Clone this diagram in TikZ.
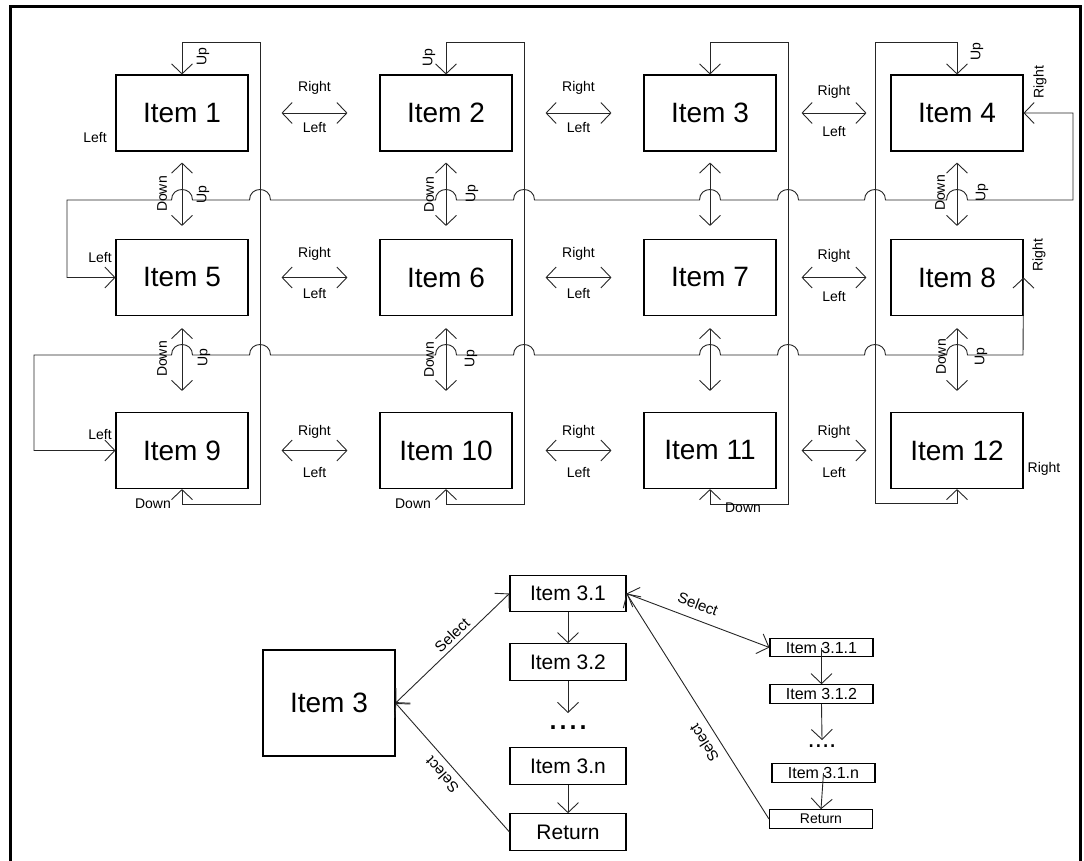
\documentclass[tikz,border=0pt]{standalone}
\usepackage{fontspec}
\setmainfont{Liberation Sans}
\usetikzlibrary{arrows.meta}
\begin{document}
\begin{tikzpicture}[x=1pt,y=-1pt,
  >={Straight Barb[length=10pt,width=21pt]},
  box/.style={draw=black, line width=1.1pt, inner sep=0pt, minimum width=132pt, minimum height=76pt, font=\fontsize{28}{30}\selectfont},
  sbox/.style={draw=black, line width=1.1pt, inner sep=0pt, minimum width=116pt, minimum height=36.5pt, font=\fontsize{21}{24}\selectfont},
  tbox/.style={draw=black, line width=1.1pt, inner sep=0pt, minimum width=103pt, minimum height=18.5pt, font=\fontsize{16}{18}\selectfont},
  lbl/.style={inner sep=0pt, font=\fontsize{14}{16}\selectfont},
  vlbl/.style={lbl, rotate=90},
  sel/.style={inner sep=0pt, font=\fontsize{15}{17}\selectfont},
  con/.style={line width=0.9pt, draw=black!85},
  hop/.style 2 args={insert path={-- (#1+10.5,#2) .. controls (#1+10.5,#2-14) and (#1-10.5,#2-14) .. (#1-10.5,#2)}}
]
\useasboundingbox (0,0) rectangle (1084,861);
\clip (0,0) rectangle (1084,861);
% frame
\draw[line width=3pt] (10.5,900) -- (10.5,7) -- (1080.5,7) -- (1080.5,900);

% grid of items
\node[box] (I1) at (182,113) {Item 1};
\node[box] (I2) at (446,113) {Item 2};
\node[box] (I3) at (710,113) {Item 3};
\node[box] (I4) at (957,113) {Item 4};
\node[box] (I5) at (182,277.5) {Item 5};
\node[box] (I6) at (446,277.5) {Item 6};
\node[box] (I7) at (710,277.5) {Item 7};
\node[box] (I8) at (957,277.5) {Item 8};
\node[box] (I9) at (182,450.5) {Item 9};
\node[box] (I10) at (446,450.5) {Item 10};
\node[box] (I11) at (710,450.5) {Item 11};
\node[box] (I12) at (957,450.5) {Item 12};

% horizontal double arrows
\foreach \a/\b/\s/\t in {1/2/33/32, 2/3/33/32, 3/4/25/24, 5/6/33/32, 6/7/33/32, 7/8/25/24, 9/10/33/32, 10/11/33/32, 11/12/25/24}{
  \draw[con,<->,shorten <=\s pt,shorten >=\t pt] (I\a.east) -- (I\b.west);
}
% vertical double arrows
\foreach \a/\b in {1/5, 2/6, 3/7, 4/8}{
  \draw[con,<->,shorten <=11pt,shorten >=13pt] (I\a.south) -- (I\b.north);
}
\foreach \a/\b in {5/9, 6/10, 7/11, 8/12}{
  \draw[con,<->,shorten <=12pt,shorten >=21pt] (I\a.south) -- (I\b.north);
}

% column wrap lines
\coordinate (t1) at (260,42);  \coordinate (b1) at (260,504);
\coordinate (t2) at (524,42);  \coordinate (b2) at (524,504);
\coordinate (t3) at (788,42);  \coordinate (b3) at (788,504);
\coordinate (t4) at (875,42);  \coordinate (b4) at (875,503);
\draw[con,<->] (I1.north) |- (t1) -- (b1) -| (I9.south);
\draw[con,<->] (I2.north) |- (t2) -- (b2) -| (I10.south);
\draw[con,<->] (I3.north) |- (t3) -- (b3) -| (I11.south);
\draw[con,<->] (I4.north) |- (t4) -- (b4) -| (I12.south);

% row wrap lines with hops
\coordinate (w1a) at (1073,113); \coordinate (w1b) at (1073,200); \coordinate (w1c) at (67,200);
\draw[con,<->] (I4.east) -- (w1a) -- (w1b)
  [hop={957}{200}] [hop={875}{200}] [hop={788}{200}] [hop={710}{200}]
  [hop={524}{200}] [hop={446}{200}] [hop={260}{200}] [hop={182}{200}]
  -- (w1c) |- (I5.west);
\coordinate (w2b) at (1023,355); \coordinate (w2c) at (34,355);
\draw[con,<->] (I8.east) -- (w2b)
  [hop={957}{355}] [hop={875}{355}] [hop={788}{355}] [hop={710}{355}]
  [hop={524}{355}] [hop={446}{355}] [hop={260}{355}] [hop={182}{355}]
  -- (w2c) |- (I9.west);

% Right / Left labels on horizontal arrows
\node[lbl] (R1) at (314.5,87.5) {Right};  \node[lbl] (L1) at (314.5,128) {Left};
\node[lbl] (R2) at (578.5,87.5) {Right};  \node[lbl] (L2) at (578.5,128) {Left};
\node[lbl] (R3) at (834,91.5) {Right};    \node[lbl] (L3) at (834,132) {Left};
\node[lbl] (R5) at (314.5,253.5) {Right}; \node[lbl] (L5) at (314.5,294) {Left};
\node[lbl] (R6) at (578.5,253.5) {Right}; \node[lbl] (L6) at (578.5,294) {Left};
\node[lbl] (R7) at (834,256) {Right};     \node[lbl] (L7) at (834,297) {Left};
\node[lbl] (R9) at (314.5,432) {Right};   \node[lbl] (L9) at (314.5,473) {Left};
\node[lbl] (R10) at (578.5,432) {Right};  \node[lbl] (L10) at (578.5,473) {Left};
\node[lbl] (R11) at (834,432) {Right};    \node[lbl] (L11) at (834,473) {Left};

% other labels
\node[lbl] (xL1) at (95,138) {Left};
\node[lbl] (xL5) at (100,258) {Left};
\node[lbl] (xL9) at (100,434) {Left};
\node[vlbl] (xU1) at (203,57) {Up};
\node[vlbl] (xU2) at (429,58) {Up};
\node[vlbl] (xU4) at (977,52) {Up};
\node[vlbl] (xR4) at (1040,82) {Right};
\node[vlbl] (xR8) at (1039,255) {Right};
\node[lbl] (xR12) at (1044,469) {Right};
\node[vlbl] (D15) at (162,194) {Down}; \node[vlbl] (U15) at (203,195) {Up};
\node[vlbl] (D26) at (429,195) {Down}; \node[vlbl] (U26) at (472,194) {Up};
\node[vlbl] (D48) at (940,193) {Down}; \node[vlbl] (U48) at (982,193) {Up};
\node[vlbl] (D59) at (162,359) {Down}; \node[vlbl] (U59) at (204,358) {Up};
\node[vlbl] (D610) at (429,360) {Down}; \node[vlbl] (U610) at (471,359) {Up};
\node[vlbl] (D812) at (941,357) {Down}; \node[vlbl] (U812) at (981,357) {Up};
\node[lbl] (xD9) at (153,504) {Down};
\node[lbl] (xD10) at (413,504) {Down};
\node[lbl] (xD11) at (743,508) {Down};

% lower diagram
\node[box, minimum height=106pt] (J3) at (329,703) {Item 3};
\node[sbox] (S1) at (568,593.5) {Item 3.1};
\node[sbox] (S2) at (568,662) {Item 3.2};
\node[anchor=base, inner sep=0pt, font=\fontsize{36}{38}\selectfont] (S3) at (568,729) {....};
\node[sbox] (S4) at (568,766) {Item 3.n};
\node[sbox] (S5) at (568,832) {Return};
\coordinate (S3top) at (568,713);
\draw[con,->] (S1.south) -- (S2.north);
\draw[con,->] (S2.south) -- (S3top);
\draw[con,->] (S4.south) -- (S5.north);

\node[tbox] (T1) at (821.5,647.5) {Item 3.1.1};
\node[tbox] (T2) at (821.5,694) {Item 3.1.2};
\node[anchor=base, inner sep=0pt, font=\fontsize{26}{28}\selectfont] (T3) at (822,747) {....};
\node[tbox] (T4) at (823.5,773) {Item 3.1.n};
\node[tbox, font=\fontsize{14}{16}\selectfont] (T5) at (821,819) {Return};
\coordinate (T3top) at (822,740);
\draw[con,->] (T1.center) -- (T2.north);
\draw[con,->] (T2.south) -- (T3top);
\draw[con,->] (T4.center) -- (T5.north);

\draw[con,<->] (J3.east) -- (S1.west);
\draw[con,->] (S5.west) -- (J3.east);
\draw[con,<->] (S1.east) -- (T1.west);
\draw[con,->] (T5.west) -- (S1.east);

\node[sel, rotate=43.6] (sA) at (452,635) {Select};
\node[sel, rotate=131.7] (sB) at (442,775) {Select};
\node[sel, rotate=-20.6] (sC) at (698,604) {Select};
\node[sel, rotate=122.5] (sD) at (704,743) {Select};
\end{tikzpicture}
\end{document}
